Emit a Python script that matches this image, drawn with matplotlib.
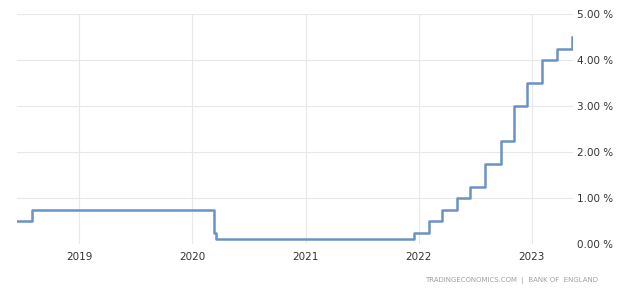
import matplotlib
matplotlib.use('Agg')
import matplotlib.pyplot as plt
import matplotlib.dates as mdates
from datetime import datetime

# Bank of England rate decisions (date, rate %)
change_dates = ['2018-06-16', '2018-08-02', '2020-03-11', '2020-03-19', '2021-12-16',
                '2022-02-03', '2022-03-17', '2022-05-05', '2022-06-16', '2022-08-04',
                '2022-09-22', '2022-11-03', '2022-12-15', '2023-02-02', '2023-03-23',
                '2023-05-11']
rates = [0.50, 0.75, 0.25, 0.10, 0.25,
         0.50, 0.75, 1.00, 1.25, 1.75,
         2.25, 3.00, 3.50, 4.00, 4.25,
         4.50]
year_ticks = [2019, 2020, 2021, 2022, 2023]
y_ticks = [0, 1, 2, 3, 4, 5]

dates = [datetime.strptime(d, '%Y-%m-%d') for d in change_dates]

fig = plt.figure(figsize=(6.4, 2.94), dpi=100)
ax = fig.add_axes([0.027, 0.170, 0.868, 0.782])

ax.step(dates, rates, where='post', color='#6a92c4', lw=1.8)

ax.set_xlim(datetime(2018, 6, 16), datetime(2023, 5, 13))
ax.set_ylim(0, 5)
ax.set_xticks([datetime(y, 1, 1) for y in year_ticks])
ax.xaxis.set_major_formatter(mdates.DateFormatter('%Y'))
ax.set_yticks(y_ticks)
ax.set_yticklabels([f'{v:.2f} %' for v in y_ticks])
ax.yaxis.tick_right()

ax.grid(True, color='#e8e8e8', lw=0.8)
ax.set_axisbelow(True)
for s in ax.spines.values():
    s.set_visible(False)
ax.tick_params(length=0, labelsize=7.5, colors='#333333')
ax.tick_params(axis='x', pad=6)
ax.tick_params(axis='y', pad=3)

fig.text(0.935, 0.045, 'TRADINGECONOMICS.COM  |  BANK OF  ENGLAND', ha='right',
         va='center', fontsize=5, color='#a0a0a0')

plt.savefig('out.png', dpi=100)
